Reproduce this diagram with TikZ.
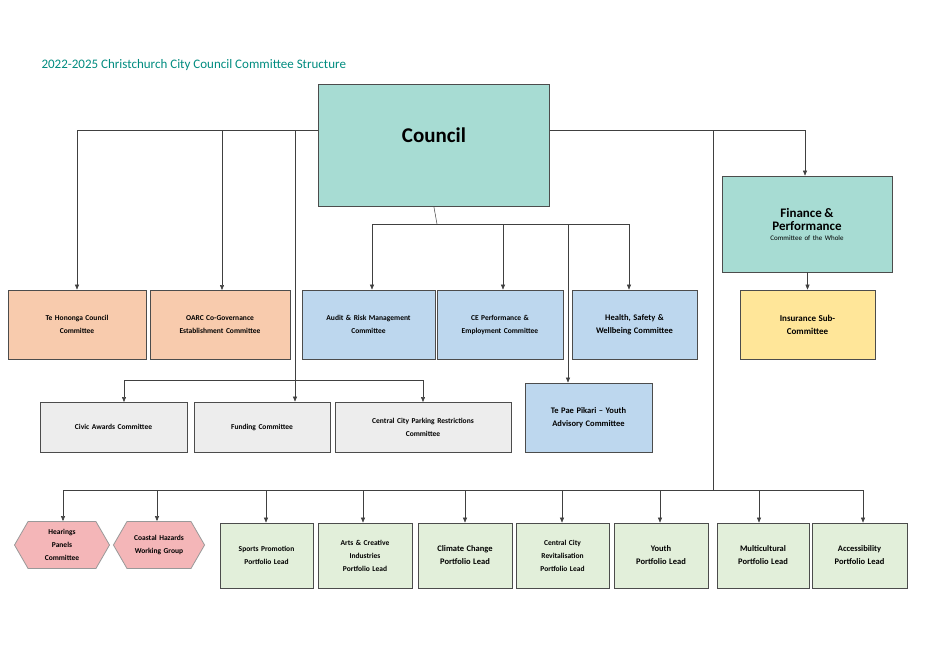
\documentclass[tikz,border=0pt]{standalone}
\usepackage{fontspec}
\setmainfont{Carlito}
\usetikzlibrary{shapes.symbols,arrows.meta}
\definecolor{teal1}{RGB}{167,220,211}
\definecolor{titleteal}{RGB}{0,140,128}
\definecolor{peach}{RGB}{248,203,173}
\definecolor{skyblue}{RGB}{189,215,238}
\definecolor{greybox}{RGB}{237,237,237}
\definecolor{greenbox}{RGB}{226,239,218}
\definecolor{pinkbox}{RGB}{244,182,184}
\definecolor{yellowbox}{RGB}{255,230,153}

\tikzset{
  box/.style={draw=black!70, line width=0.8pt, inner sep=2pt, align=center,
    font=\fontsize{7.5}{13}\selectfont\bfseries},
  hexbox/.style={box, shape=signal, signal to=east and west, signal from=nowhere,
    signal pointer angle=120, draw=black!40, fill=pinkbox},
  link/.style={draw=black!75, line width=0.5pt},
  arr/.style={link, -{Triangle[length=5pt,width=4pt]}}
}
\newcommand{\bx}[7]{% name, x1, y1, x2, y2, fill, text
  \node[box, fill=#6, minimum width={(#4-#2)*1pt}, minimum height={(#5-#3)*1pt},
    text width={(#4-#2-8)*1pt}] (#1) at ({(#2+#4)/2}, {(#3+#5)/2}) {#7};}

\begin{document}
\begin{tikzpicture}[x=1pt, y=-1pt]
  \useasboundingbox (0,0) rectangle (934,661);
  \fill[white] (0,0) rectangle (934,661);
  \node[anchor=west, text=titleteal, font=\fontsize{13}{15}\selectfont] (title) at (38,65)
    {2022-2025 Christchurch City Council Committee Structure};

  % top level
  \node[box, fill=teal1, minimum width=231pt, minimum height=122pt, font=\fontsize{21}{24}\selectfont\bfseries,
    anchor=north west] (council) at (318,84) {};
  \node[font=\fontsize{21}{24}\selectfont\bfseries] (counciltxt) at (434,135) {Council};
  \node[box, fill=teal1, minimum width=170pt, minimum height=96pt, text width=160pt] (finance) at (807,224)
    {{\fontsize{13}{18}\selectfont Finance \&\\ Performance}\\[-3pt]{\fontsize{7}{9}\selectfont\mdseries Committee of the Whole}};
  \bx{insurance}{740}{290}{875}{359}{yellowbox}{{\fontsize{9}{15}\selectfont Insurance Sub-\\Committee}}

  % second row
  \bx{hononga}{8}{290}{146}{359}{peach}{Te Hononga Council\\Committee}
  \bx{oarc}{150}{290}{290}{359}{peach}{OARC Co-Governance\\Establishment Committee}
  \bx{audit}{302}{290}{435}{359}{skyblue}{Audit \& Risk Management\\Committee}
  \bx{ceperf}{437}{290}{563}{359}{skyblue}{CE Performance \&\\Employment Committee}
  \bx{health}{572}{290}{697}{359}{skyblue}{{\fontsize{8.5}{15}\selectfont Health, Safety \&\\Wellbeing Committee}}
  \bx{tepae}{525}{383}{652}{452}{skyblue}{{\fontsize{8.5}{15}\selectfont Te Pae Pīkari – Youth\\Advisory Committee}}

  % third row
  \bx{civic}{40}{402}{187}{452}{greybox}{Civic Awards Committee}
  \bx{funding}{194}{402}{330}{452}{greybox}{Funding Committee}
  \bx{parking}{335}{402}{511}{452}{greybox}{Central City Parking Restrictions\\Committee}

  % bottom row
  \node[hexbox, minimum width=95pt, minimum height=47pt, text width=50pt] (hearings) at (62,545) {Hearings\\Panels\\Committee};
  \node[hexbox, minimum width=90pt, minimum height=47pt, text width=60pt] (coastal) at (159,545) {Coastal Hazards\\Working Group};
  \bx{sports}{220}{523}{313}{588}{greenbox}{Sports Promotion\\Portfolio Lead}
  \bx{arts}{318}{523}{412}{588}{greenbox}{Arts \& Creative\\Industries\\Portfolio Lead}
  \bx{climate}{418}{523}{512}{588}{greenbox}{{\fontsize{8.5}{15}\selectfont Climate Change\\Portfolio Lead}}
  \bx{revital}{516}{523}{609}{588}{greenbox}{Central City\\Revitalisation\\Portfolio Lead}
  \bx{youth}{614}{523}{708}{588}{greenbox}{{\fontsize{8.5}{15}\selectfont Youth\\Portfolio Lead}}
  \bx{multi}{717}{523}{809}{588}{greenbox}{{\fontsize{8.5}{15}\selectfont Multicultural\\Portfolio Lead}}
  \bx{access}{812}{523}{907}{588}{greenbox}{{\fontsize{8.5}{15}\selectfont Accessibility\\Portfolio Lead}}

  % council branches
  \coordinate (lbar) at (77,130);
  \coordinate (rbar) at (805,130);
  \coordinate (midbar) at (437,224);
  \coordinate (lowbar) at (295,380);
  \coordinate (botbar) at (713,490);
  \draw[link] (council.west |- lbar) -- (lbar);
  \draw[link] (council.east |- rbar) -- (rbar);
  \draw[arr] (lbar) -- (hononga.north -| lbar);
  \draw[arr] (222,130) -- (222,290);
  \draw[arr] (rbar) -- (finance.north -| rbar);
  \draw[arr] (finance.south -| insurance.north) -- (insurance);
  \draw[arr] (295,130) -- (funding.north -| lowbar);
  \draw[link] (124,380) -- (423,380);
  \draw[arr] (124,380) -- (124,402);
  \draw[arr] (423,380) -- (423,402);
  \draw[link] (council.south) -- (midbar);
  \draw[link] (372,224) -- (629,224);
  \draw[arr] (372,224) -- (audit.north -| 372,0);
  \draw[arr] (503,224) -- (ceperf.north -| 503,0);
  \draw[arr] (629,224) -- (health.north -| 629,0);
  \draw[arr] (568,224) -- (tepae.north -| 568,0);
  \draw[link] (713,130) -- (botbar);
  \draw[link] (63,490) -- (863,490);
  \foreach \x/\n in {63/hearings,157/coastal,266/sports,363/arts,465/climate,562/revital,660/youth,759/multi,863/access}
    \draw[arr] (\x,490) -- (\n.north -| \x,0);
\end{tikzpicture}
\end{document}
